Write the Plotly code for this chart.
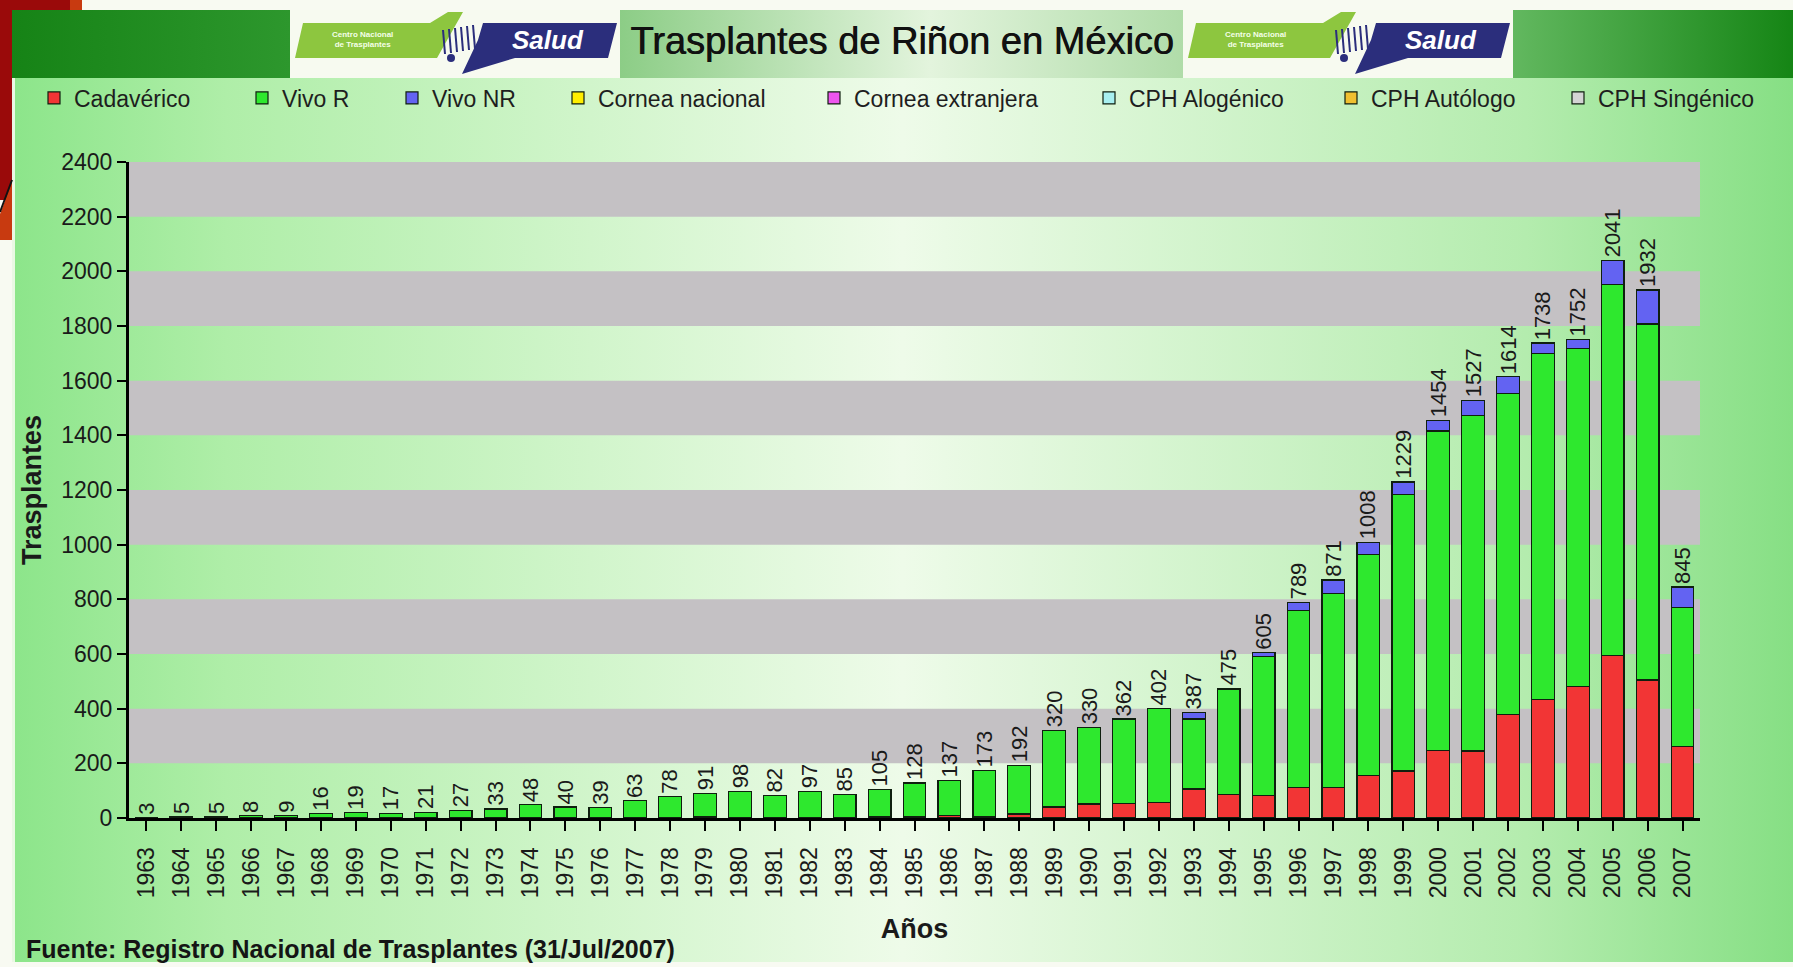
import base64
import plotly.graph_objects as go

# ---------------- data ----------------
years = [1963, 1964, 1965, 1966, 1967, 1968, 1969, 1970, 1971, 1972,
         1973, 1974, 1975, 1976, 1977, 1978, 1979, 1980, 1981, 1982,
         1983, 1984, 1985, 1986, 1987, 1988, 1989, 1990, 1991, 1992,
         1993, 1994, 1995, 1996, 1997, 1998, 1999, 2000, 2001, 2002,
         2003, 2004, 2005, 2006, 2007]

cadaverico = [0, 0, 0, 0, 0, 0, 0, 0, 0, 0,
              0, 0, 0, 0, 2, 3, 6, 2, 3, 3,
              3, 4, 6, 8, 4, 15, 40, 51, 52, 57,
              106, 85, 83, 113, 112, 155, 172, 247, 245, 380,
              434, 482, 595, 505, 262]

vivo_r = [3, 5, 5, 8, 9, 16, 19, 17, 21, 27,
          33, 48, 40, 39, 61, 75, 85, 96, 79, 94,
          82, 101, 122, 129, 169, 177, 280, 279, 307, 345,
          256, 385, 507, 646, 710, 808, 1012, 1169, 1227, 1172,
          1264, 1235, 1358, 1302, 507]

vivo_nr = [0, 0, 0, 0, 0, 0, 0, 0, 0, 0,
           0, 0, 0, 0, 0, 0, 0, 0, 0, 0,
           0, 0, 0, 0, 0, 0, 0, 0, 3, 0,
           25, 5, 15, 30, 49, 45, 45, 38, 55, 62,
           40, 35, 88, 125, 76]

# series shown in the legend with no visible values in the chart
cornea_nacional = [0] * len(years)
cornea_extranjera = [0] * len(years)
cph_alogenico = [0] * len(years)
cph_autologo = [0] * len(years)
cph_singenico = [0] * len(years)

y_ticks = [0, 200, 400, 600, 800, 1000, 1200, 1400, 1600, 1800, 2000, 2200, 2400]
band_starts = [200, 600, 1000, 1400, 1800, 2200]

title_text = "Trasplantes de Riñon en México"
source_text = "Fuente: Registro Nacional de Trasplantes (31/Jul/2007)"

# ---------------- geometry helpers (decoration only) ----------------
W, H = 1793, 967
PL, PR, PT, PB = 129, 1700, 162, 818


def px(x):
    return (x - PL) / (PR - PL)


def py(y):
    return (PB - y) / (PB - PT)


FONT = "Liberation Sans, Arial, sans-serif"

series = [
    ("Cadavérico", cadaverico, "#f23535", 72),
    ("Vivo R", vivo_r, "#2ee82e", 280),
    ("Vivo NR", vivo_nr, "#6363f2", 430),
    ("Cornea nacional", cornea_nacional, "#ffee00", 596),
    ("Cornea extranjera", cornea_extranjera, "#ee55ee", 852),
    ("CPH Alogénico", cph_alogenico, "#a8f0f0", 1127),
    ("CPH Autólogo", cph_autologo, "#f0c030", 1369),
    ("CPH Singénico", cph_singenico, "#d4d4d4", 1596),
]

fig = go.Figure()
legends = {}
for i, (name, vals, color, text_x) in enumerate(series):
    lname = "legend" if i == 0 else f"legend{i + 1}"
    fig.add_trace(go.Bar(
        x=years, y=vals, name=name, legend=lname, showlegend=True,
        marker=dict(color=color, line=dict(color="#0f1f0f", width=1.2)),
        hoverinfo="x+y+name",
    ))
    legends[lname] = dict(
        x=px(text_x - 38), xanchor="left", y=py(98), yanchor="middle",
        orientation="h", bgcolor="rgba(0,0,0,0)", borderwidth=0,
        font=dict(family=FONT, size=23, color="#1e1e1e"), itemwidth=30,
        visible=True,
    )

# totals above bars
annotations = []
for i, yr in enumerate(years):
    total = cadaverico[i] + vivo_r[i] + vivo_nr[i]
    annotations.append(dict(
        x=yr, y=total, xref="x", yref="y", text=str(total), showarrow=False,
        textangle=-90, xanchor="center", yanchor="bottom", yshift=1,
        font=dict(family=FONT, size=22, color="#1a1a1a"),
    ))

# source note
annotations.append(dict(
    x=px(24), y=py(949), xref="paper", yref="paper", text=source_text,
    showarrow=False, xanchor="left", yanchor="middle",
    font=dict(family=FONT, size=25, color="#151515", weight="bold"),
))

# logo texts
for dx in (0, 893):
    annotations.append(dict(
        x=px(548 + dx), y=py(40), xref="paper", yref="paper", text="<i>Salud</i>",
        showarrow=False, xanchor="center", yanchor="middle",
        font=dict(family=FONT, size=26, color="#ffffff", weight="bold"),
    ))
    annotations.append(dict(
        x=px(362 + dx), y=py(40), xref="paper", yref="paper",
        text="Centro Nacional<br>de Trasplantes",
        showarrow=False, xanchor="center", yanchor="middle",
        font=dict(family=FONT, size=8, color="#f4ffe8", weight="bold"),
    ))

# grey bands
shapes = []
for lo in band_starts:
    shapes.append(dict(type="rect", xref="x domain", yref="y", x0=0, x1=1,
                       y0=lo, y1=lo + 200, fillcolor="#c4c1c4",
                       line=dict(width=0), layer="below"))

# ---------------- background artwork (svg) ----------------
def logo(dx):
    s = f'<rect x="{290+dx}" y="10" width="330" height="68" fill="#f7faf0"/>'
    s += (f'<polygon points="{295+dx},58 {303+dx},23 {430+dx},23 {448+dx},12 '
          f'{463+dx},12 {437+dx},58" fill="#8dc63f"/>')
    s += (f'<polygon points="{483+dx},23 {617+dx},23 {608+dx},58 {515+dx},58 '
          f'{462+dx},74 {478+dx},40" fill="#2b2e7c"/>')
    for k in range(6):
        xx = 443 + dx + k * 6
        s += (f'<line x1="{xx}" y1="{30 - k}" x2="{xx + 2}" y2="{54 - k}" '
              f'stroke="#2b2e7c" stroke-width="2"/>')
    s += f'<circle cx="{451+dx}" cy="58" r="4" fill="#2b2e7c"/>'
    return s


svg = f'''<svg xmlns="http://www.w3.org/2000/svg" width="{W}" height="{H}" viewBox="0 0 {W} {H}" preserveAspectRatio="none">
<defs>
<linearGradient id="panel" x1="0" y1="0" x2="1" y2="0">
<stop offset="0" stop-color="#8ce58a"/>
<stop offset="0.12" stop-color="#afeea8"/>
<stop offset="0.5" stop-color="#eefbe9"/>
<stop offset="0.85" stop-color="#b4ecae"/>
<stop offset="1" stop-color="#86df84"/>
</linearGradient>
<linearGradient id="hl" x1="0" y1="0" x2="1" y2="0">
<stop offset="0" stop-color="#168316"/><stop offset="1" stop-color="#2d972d"/>
</linearGradient>
<linearGradient id="hr" x1="0" y1="0" x2="1" y2="0">
<stop offset="0" stop-color="#62b85f"/><stop offset="1" stop-color="#158515"/>
</linearGradient>
<linearGradient id="tt" x1="0" y1="0" x2="1" y2="0">
<stop offset="0" stop-color="#8ccd86"/><stop offset="0.55" stop-color="#e3f4dd"/><stop offset="1" stop-color="#b0dca9"/>
</linearGradient>
</defs>
<rect x="0" y="0" width="{W}" height="{H}" fill="#f8faf2"/>
<rect x="12" y="10" width="{W-12}" height="952" fill="url(#panel)"/>
<rect x="12" y="10" width="3" height="952" fill="#eaf8e4"/>
<rect x="12" y="10" width="278" height="68" fill="url(#hl)"/>
<rect x="620" y="10" width="564" height="68" fill="url(#tt)"/>
<rect x="1513" y="10" width="{W-1513}" height="68" fill="url(#hr)"/>
{logo(0)}{logo(893)}
<rect x="0" y="0" width="12" height="200" fill="#9a0a0a"/>
<rect x="0" y="0" width="70" height="10" fill="#9a0a0a"/>
<rect x="70" y="0" width="12" height="10" fill="#c83a10"/>
<polygon points="0,214 12,182 12,240 0,240" fill="#c83a10"/>
<line x1="0" y1="212" x2="12" y2="180" stroke="#111" stroke-width="2"/>
</svg>'''

bg_src = "data:image/svg+xml;base64," + base64.b64encode(svg.encode("utf-8")).decode("ascii")

fig.update_layout(
    width=W, height=H,
    margin=dict(l=PL, r=W - PR, t=PT, b=H - PB, pad=0),
    autosize=False, showlegend=True,
    barmode="stack", bargap=0.35,
    paper_bgcolor="#ffffff", plot_bgcolor="rgba(0,0,0,0)",
    font=dict(family=FONT, color="#1a1a1a"),
    title=dict(text=title_text, x=902 / W, xanchor="center", y=1 - 41 / H, yanchor="middle",
               font=dict(family=FONT, size=38, color="#111111",
                         shadow="0.7px 0px 0px #111111")),
    images=[dict(source=bg_src, xref="paper", yref="paper", x=px(0), y=py(0),
                 sizex=W / (PR - PL), sizey=H / (PB - PT), xanchor="left", yanchor="top",
                 sizing="stretch", layer="below")],
    shapes=shapes,
    annotations=annotations,
    xaxis=dict(
        type="linear", range=[years[0] - 0.5, years[-1] + 0.5], tickvals=years,
        showgrid=False, zeroline=False,
        showline=True, linecolor="#000000", linewidth=3,
        ticks="outside", ticklen=10, tickwidth=2, tickcolor="#000000",
        tickangle=-90, ticklabelstandoff=7,
        tickfont=dict(family=FONT, size=23, color="#1a1a1a"),
        title=dict(text="Años", standoff=22,
                   font=dict(family=FONT, size=27, color="#1a1a1a", weight="bold")),
    ),
    yaxis=dict(
        range=[0, 2400], tickvals=y_ticks, showgrid=False, zeroline=False,
        showline=True, linecolor="#000000", linewidth=3,
        ticks="outside", ticklen=9, tickwidth=2, tickcolor="#000000",
        tickfont=dict(family=FONT, size=23, color="#1a1a1a"),
        title=dict(text="Trasplantes", standoff=12,
                   font=dict(family=FONT, size=27, color="#1a1a1a", weight="bold")),
    ),
    **legends,
)

fig.write_html("out.html", config={"displayModeBar": False},
               post_script="document.body.style.margin='0';document.body.style.overflow='hidden';")
